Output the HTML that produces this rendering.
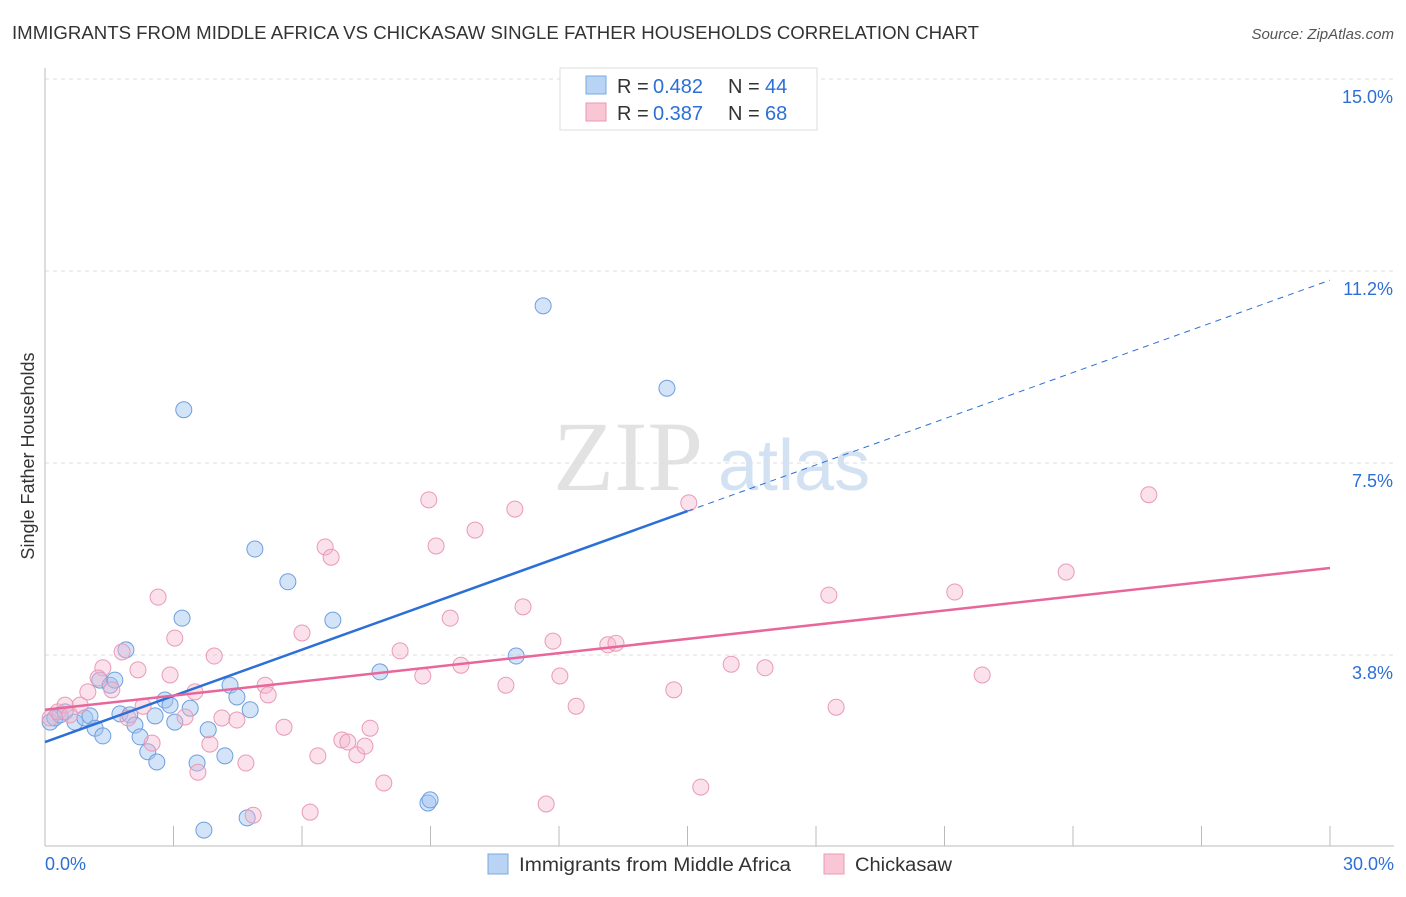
<!DOCTYPE html>
<html><head><meta charset="utf-8"><style>
body{margin:0;background:#fff;font-family:"Liberation Sans",sans-serif}
svg text{font-family:"Liberation Sans",sans-serif}
</style></head><body>
<svg id="c" width="1406" height="892">
<text x="12" y="39" font-size="18" fill="#333" textLength="967" lengthAdjust="spacingAndGlyphs">IMMIGRANTS FROM MIDDLE AFRICA VS CHICKASAW SINGLE FATHER HOUSEHOLDS CORRELATION CHART</text>
<text x="1394" y="39" font-size="15" fill="#555" font-style="italic" text-anchor="end">Source: ZipAtlas.com</text>
<text x="34" y="456" font-size="18" fill="#333" text-anchor="middle" transform="rotate(-90 34 456)">Single Father Households</text>
<text x="553" y="490" font-size="100" fill="#e2e2e2" style="font-family:'Liberation Serif',serif">ZIP</text>
<text x="718" y="490" font-size="72" fill="#d3e2f3">atlas</text>
<g id="grid"></g><g id="pts"></g><g id="lines"></g>
<g>
<rect x="560" y="68" width="257" height="62" fill="#fff" stroke="#ddd"/>
<rect x="586" y="76" width="20" height="18" fill="#b9d3f5" stroke="#7aa8e0"/>
<text x="617" y="93" font-size="20" fill="#333">R =</text>
<text x="653" y="93" font-size="20" fill="#2c6fd6">0.482</text>
<text x="728" y="93" font-size="20" fill="#333">N =</text>
<text x="765" y="93" font-size="20" fill="#2c6fd6">44</text>
<rect x="586" y="103" width="20" height="18" fill="#f9c6d6" stroke="#eb9bb5"/>
<text x="617" y="120" font-size="20" fill="#333">R =</text>
<text x="653" y="120" font-size="20" fill="#2c6fd6">0.387</text>
<text x="728" y="120" font-size="20" fill="#333">N =</text>
<text x="765" y="120" font-size="20" fill="#2c6fd6">68</text>
</g>
<g>
<rect x="488" y="854" width="20" height="20" fill="#b9d3f5" stroke="#7aa8e0"/>
<text x="519" y="871" font-size="19" fill="#333" textLength="272" lengthAdjust="spacingAndGlyphs">Immigrants from Middle Africa</text>
<rect x="824" y="854" width="20" height="20" fill="#f9c6d6" stroke="#eb9bb5"/>
<text x="855" y="871" font-size="19" fill="#333" textLength="97" lengthAdjust="spacingAndGlyphs">Chickasaw</text>
</g>
</svg>
<script>
const blueX=[0.12,0.23,0.35,0.47,0.70,0.93,1.05,1.17,1.28,1.35,1.52,1.63,1.75,1.89,1.98,2.10,2.22,2.40,2.57,2.61,2.80,2.92,3.03,3.20,3.24,3.39,3.55,3.71,3.81,4.20,4.32,4.48,4.72,4.79,4.90,5.67,6.72,7.82,8.94,8.99,11.00,11.63,14.52];
const blueY=[2.44,2.52,2.58,2.64,2.44,2.52,2.56,2.32,3.26,2.17,3.16,3.26,2.60,3.85,2.58,2.38,2.15,1.86,2.56,1.66,2.87,2.77,2.44,4.47,8.54,2.71,1.64,0.33,2.29,1.78,3.16,2.93,0.57,2.68,5.82,5.18,4.43,3.42,0.86,0.92,3.73,10.57,8.96];
const pinkX=[0.12,0.30,0.47,0.58,0.82,1.00,1.35,1.24,1.56,1.80,1.94,2.17,2.29,2.50,2.64,2.92,3.03,3.27,3.50,3.57,3.85,3.95,4.13,4.48,4.69,4.86,5.14,5.21,5.58,6.00,6.19,6.37,6.54,6.68,6.93,7.07,7.28,7.47,7.59,7.91,8.29,8.82,8.96,9.13,9.46,9.71,10.04,10.76,10.97,11.16,11.70,11.86,12.02,12.40,13.14,13.33,14.68,15.03,15.31,16.02,16.81,18.47,18.30,21.24,21.88,23.84,25.77];
const pinkY=[2.52,2.64,2.77,2.58,2.77,3.03,3.50,3.30,3.07,3.81,2.52,3.46,2.75,2.03,4.88,3.36,4.08,2.54,3.03,1.46,2.01,3.73,2.52,2.48,1.64,0.62,3.16,2.97,2.34,4.18,0.68,1.78,5.86,5.66,2.09,2.05,1.80,1.97,2.32,1.25,3.83,3.34,6.78,5.88,4.47,3.55,6.19,3.16,6.60,4.69,0.84,4.02,3.34,2.75,3.95,3.98,3.07,6.72,1.17,3.57,3.50,2.73,4.92,4.98,3.36,5.37,6.88];
const yTicks=[3.75,7.5,11.25,15];
const yTickLabels=["3.8%","7.5%","11.2%","15.0%"];
const xTicks=[0,3,6,9,12,15,18,21,24,27,30];
const blueFit=[2.05,0.3007];
const pinkFit=[2.68,0.0923];
const NS="http://www.w3.org/2000/svg";
const X=v=>45+v/30*1285, Y=v=>847-v/15*768;
function mk(t,a,p){const e=document.createElementNS(NS,t);for(const k in a)e.setAttribute(k,a[k]);p.appendChild(e);return e;}
const g=document.getElementById('grid');
yTicks.forEach((t,i)=>{
 const l=mk('line',{x1:45,x2:1394,y1:Y(t),y2:Y(t),stroke:'#ddd','stroke-dasharray':'4,4'},g);
 
 
 const tx=mk('text',{x:1393,y:Y(t)+24,'font-size':18,fill:'#2c6fd6','text-anchor':'end'},g);
 tx.textContent=yTickLabels[i];
 
 
});
const ax=mk('line',{x1:45,x2:45,y1:68,y2:846,stroke:'#bbb'},g);


const xa=mk('line',{x1:45,x2:1394,y1:846,y2:846,stroke:'#bbb'},g);


xTicks.forEach(t=>{
 const l=mk('line',{x1:X(t),x2:X(t),y1:826,y2:846,stroke:'#bbb'},g);
 
 
});
[[0,'0.0%','start',45],[30,'30.0%','end',1394]].forEach(d=>{
 const tx=mk('text',{x:d[3],y:870,'font-size':18,fill:'#2c6fd6','text-anchor':d[2]},g);
 tx.textContent=d[1];
 
 
});
const p=document.getElementById('pts');
blueX.forEach((x,i)=>{
 const c=mk('circle',{cx:X(x),cy:Y(blueY[i]),r:8,fill:'rgba(160,195,240,0.45)',stroke:'#6e9fdf','stroke-width':1},p);
 
 
});
pinkX.forEach((x,i)=>{
 const c=mk('circle',{cx:X(x),cy:Y(pinkY[i]),r:8,fill:'rgba(245,180,205,0.4)',stroke:'#e99ab5','stroke-width':1},p);
 
 
});
const L=document.getElementById('lines');
let l=mk('line',{x1:X(0),y1:Y(blueFit[0]),x2:X(15),y2:Y(blueFit[0]+blueFit[1]*15),stroke:'#2c6fd6','stroke-width':2.5},L);


l=mk('line',{x1:X(15),y1:Y(blueFit[0]+blueFit[1]*15),x2:X(30),y2:Y(blueFit[0]+blueFit[1]*30),stroke:'#2c6fd6','stroke-width':1,'stroke-dasharray':'6,5'},L);


l=mk('line',{x1:X(0),y1:Y(pinkFit[0]),x2:X(30),y2:Y(pinkFit[0]+pinkFit[1]*30),stroke:'#e8669a','stroke-width':2.5},L);


</script>
</body></html>
